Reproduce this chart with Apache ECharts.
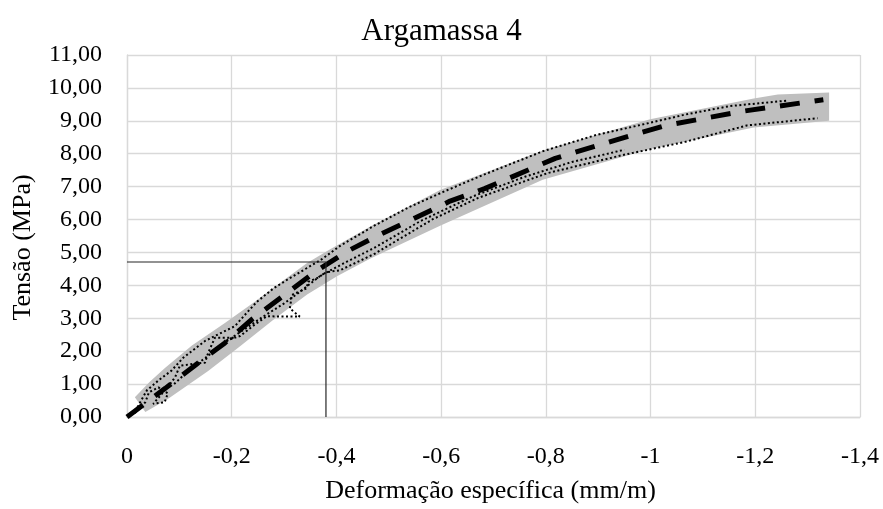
<!DOCTYPE html>
<html>
<head>
<meta charset="utf-8">
<script src="https://cdn.jsdelivr.net/npm/echarts@6/dist/echarts.min.js"></script>
<style>
  html, body { margin: 0; padding: 0; background: #fff; }
  #chart { width: 883px; height: 509px; }
</style>
</head>
<body>
<div id="chart"></div>
<script>
// Stress-strain curves for mortar 4 (strain in mm/m, stress in MPa)
const chartTitle = 'Argamassa 4';
const xName = 'Deformação específica (mm/m)';
const yName = 'Tensão (MPa)';

// x ticks (strain) and y ticks (stress)
const xTicks = { min: -1.4, max: 0, step: 0.2 };
const yTicks = { min: 0, max: 11, step: 1 };

// Average curve
const meanCurve = [
  [0, 0], [-0.073, 0.87], [-0.134, 1.62], [-0.187, 2.25], [-0.239, 2.97],
  [-0.302, 3.72], [-0.359, 4.41], [-0.42, 5.03], [-0.485, 5.56], [-0.552, 6.06],
  [-0.617, 6.56], [-0.683, 6.94], [-0.818, 7.86], [-0.93, 8.4], [-1.029, 8.86],
  [-1.18, 9.3], [-1.33, 9.64]
];

// Scatter envelope of the specimens (upper and lower edge)
const bandUpper = [
  [-0.015, 0.6], [-0.044, 1.08], [-0.073, 1.5], [-0.124, 2.17], [-0.187, 2.86],
  [-0.244, 3.5], [-0.279, 3.92], [-0.344, 4.68], [-0.388, 5.1], [-0.464, 5.78],
  [-0.598, 6.9], [-0.794, 8.1], [-0.999, 9.05], [-1.197, 9.68], [-1.243, 9.8],
  [-1.341, 9.86]
];
const bandLower = [
  [-0.035, 0.15], [-0.078, 0.55], [-0.155, 1.4], [-0.216, 2.15], [-0.279, 2.95],
  [-0.344, 3.72], [-0.401, 4.28], [-0.464, 4.81], [-0.598, 5.81], [-0.794, 7.21],
  [-0.999, 8.14], [-1.197, 8.8], [-1.341, 9.0]
];

// Individual specimens
const specimenA = [
  [-0.02, 0.3], [-0.038, 0.81], [-0.06, 1.11], [-0.085, 1.41], [-0.108, 1.81],
  [-0.149, 2.31], [-0.174, 2.51], [-0.206, 2.76], [-0.225, 3.1], [-0.248, 3.5],
  [-0.279, 3.9], [-0.311, 4.22], [-0.343, 4.52], [-0.369, 4.76], [-0.407, 5.2],
  [-0.473, 5.82], [-0.539, 6.38], [-0.604, 6.84], [-0.684, 7.38], [-0.795, 8.08],
  [-0.894, 8.56], [-0.999, 8.94], [-1.066, 9.19], [-1.152, 9.45], [-1.259, 9.61]
];
const specimenB = [
  [-0.015, 0.12], [-0.035, 0.45], [-0.042, 0.75], [-0.06, 0.9], [-0.078, 0.72],
  [-0.072, 0.45], [-0.05, 0.4], [-0.08, 0.95], [-0.092, 1.21], [-0.101, 1.56],
  [-0.13, 1.62], [-0.149, 1.65], [-0.155, 1.95], [-0.168, 2.41], [-0.205, 2.41],
  [-0.187, 2.31], [-0.216, 2.46], [-0.244, 2.81], [-0.267, 3.06], [-0.33, 3.05],
  [-0.311, 3.3], [-0.315, 3.71], [-0.343, 3.91], [-0.346, 4.11], [-0.362, 4.21],
  [-0.381, 4.4], [-0.407, 4.46], [-0.473, 4.96], [-0.584, 6.01], [-0.671, 6.66],
  [-0.803, 7.41], [-0.947, 7.96], [-1.066, 8.36], [-1.184, 8.86], [-1.319, 9.08]
];
const specimenC = [
  [-0.09, 1.0], [-0.12, 1.45], [-0.15, 1.8], [-0.19, 2.3], [-0.22, 2.62],
  [-0.26, 3.05], [-0.3, 3.45], [-0.33, 3.8], [-0.37, 4.3], [-0.42, 4.72],
  [-0.47, 5.12], [-0.56, 5.95], [-0.66, 6.7], [-0.76, 7.3], [-0.85, 7.75],
  [-0.95, 8.12]
];

// Reference point marked by guide lines
const refPoint = [-0.38, 4.71];

const FONT = 'Liberation Serif';
const GRID = '#d9d9d9';

function fmtX(v) {
  const r = Math.round(v * 10) / 10;
  return (r === 0 ? '0' : String(r)).replace('.', ',');
}
function fmtY(v) {
  return (Math.round(v * 100) / 100).toFixed(2).replace('.', ',');
}

const bandPolygon = bandUpper.concat(bandLower.slice().reverse());

const chart = echarts.init(document.getElementById('chart'), null, { renderer: 'canvas' });

const dotted = { color: '#000', width: 2, type: [2, 2.5], cap: 'butt' };

chart.setOption({
  animation: false,
  backgroundColor: '#fff',
  textStyle: { fontFamily: FONT },
  title: {
    text: chartTitle,
    left: 'center',
    top: 11,
    textStyle: { fontFamily: FONT, fontSize: 31, fontWeight: 'normal', color: '#000' }
  },
  grid: { left: 127, right: 23, top: 55, bottom: 87, containLabel: false },
  xAxis: {
    type: 'value',
    inverse: true,
    min: xTicks.min,
    max: xTicks.max,
    interval: xTicks.step,
    name: xName,
    nameLocation: 'middle',
    nameGap: 61,
    nameTextStyle: { fontFamily: FONT, fontSize: 26, color: '#000', padding: [0, 6, 0, 0] },
    axisLine: { show: true, onZero: false, lineStyle: { color: GRID, width: 1.3 } },
    axisTick: { show: false },
    axisLabel: { fontFamily: FONT, fontSize: 24, color: '#000', margin: 28, formatter: fmtX },
    splitLine: { show: true, lineStyle: { color: GRID, width: 1.3 } }
  },
  yAxis: {
    type: 'value',
    min: yTicks.min,
    max: yTicks.max,
    interval: yTicks.step,
    name: yName,
    nameLocation: 'middle',
    nameGap: 91,
    nameTextStyle: { fontFamily: FONT, fontSize: 26, color: '#000', padding: [0, 23, 0, 0] },
    axisLine: { show: true, onZero: false, lineStyle: { color: GRID, width: 1.3 } },
    axisTick: { show: false },
    axisLabel: { fontFamily: FONT, fontSize: 24, color: '#000', margin: 25, formatter: fmtY },
    splitLine: { show: true, lineStyle: { color: GRID, width: 1.3 } }
  },
  series: [
    {
      name: 'envelope',
      type: 'custom',
      coordinateSystem: 'cartesian2d',
      silent: true,
      z: 1,
      data: bandPolygon,
      renderItem: function (params, api) {
        if (params.dataIndex !== 0) return null;
        const pts = bandPolygon.map(p => api.coord(p));
        return { type: 'polygon', shape: { points: pts }, style: { fill: '#bfbfbf' } };
      }
    },
    { name: 'CP A', type: 'line', data: specimenA, showSymbol: false, symbol: 'none', z: 2, lineStyle: dotted },
    { name: 'CP B', type: 'line', data: specimenB, showSymbol: false, symbol: 'none', z: 2, lineStyle: dotted },
    { name: 'CP C', type: 'line', data: specimenC, showSymbol: false, symbol: 'none', z: 2, lineStyle: dotted },
    {
      name: 'Média', type: 'line', data: meanCurve, showSymbol: false, symbol: 'none', z: 3,
      lineStyle: { color: '#000', width: 5, type: [20, 15], cap: 'butt' }
    },
    {
      name: 'guia', type: 'line', z: 4, showSymbol: false, symbol: 'none',
      data: [[0, refPoint[1]], refPoint, [refPoint[0], 0]],
      lineStyle: { color: '#262626', width: 1.2 }
    }
  ]
});
</script>
</body>
</html>
